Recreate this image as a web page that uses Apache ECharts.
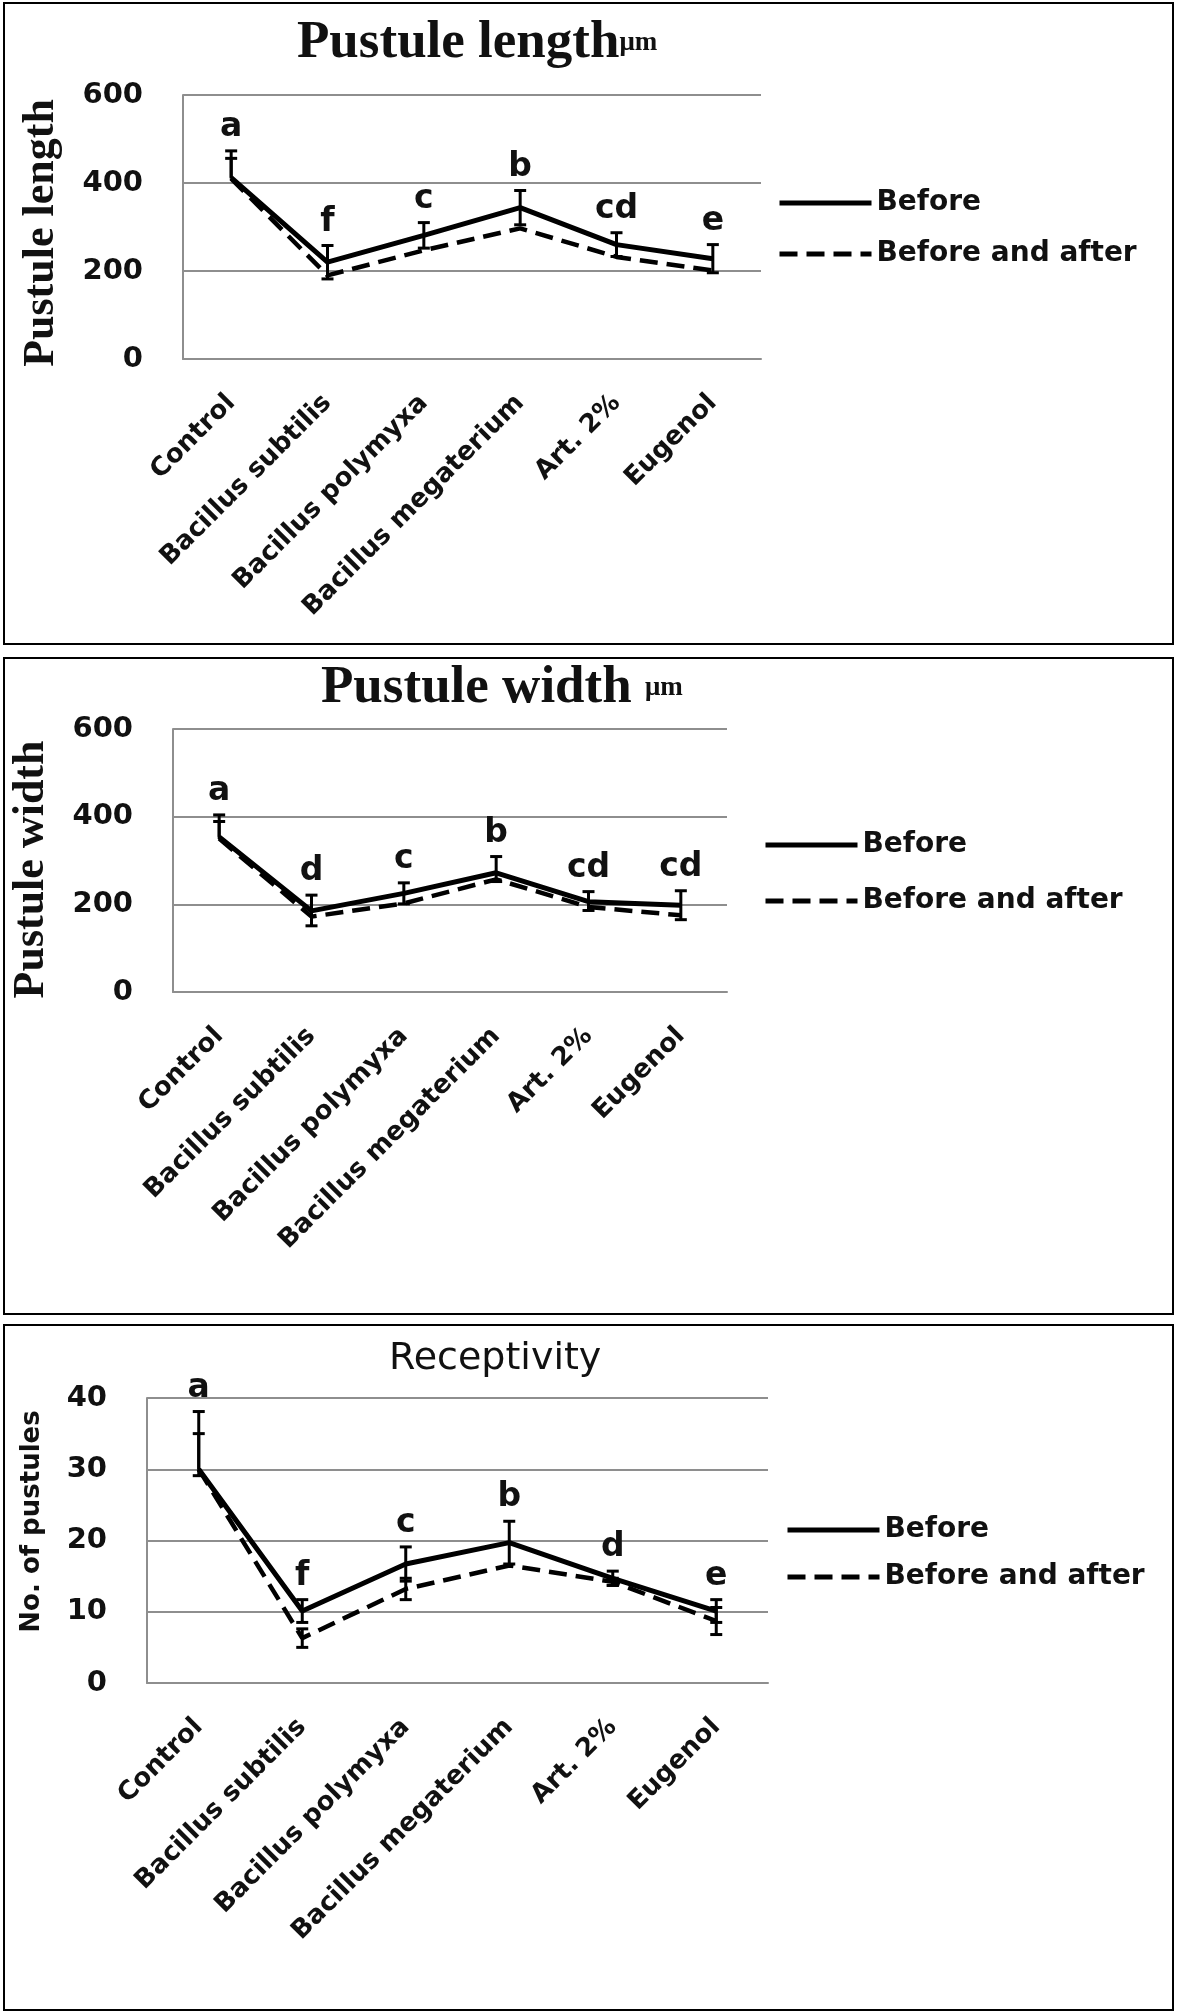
<!DOCTYPE html>
<html><head><meta charset="utf-8">
<script src="https://cdn.jsdelivr.net/npm/echarts@6/dist/echarts.min.js"></script>
<style>html,body{margin:0;padding:0;background:#fff}#c{width:1181px;height:2015px}</style>
</head><body><div id="c"></div>
<script>
// ---------- DATA ----------
const categories = ['Control', 'Bacillus subtilis', 'Bacillus polymyxa', 'Bacillus megaterium', 'Art. 2%', 'Eugenol'];
const seriesNames = ['Before', 'Before and after'];

// Pustule length (µm)
const lengthBefore        = [412, 220, 281, 344, 260, 228];
const lengthBeforeErrUp   = [61, 38, 29, 39, 27, 32];
const lengthBeforeErrDown = [0, 38, 29, 39, 27, 32];
const lengthAfter         = [410, 190, 247, 297, 232, 201];
const lengthAfterErrUp    = [46, 0, 0, 0, 0, 0];
const lengthAfterErrDown  = [0, 0, 0, 0, 0, 0];
const lengthLetters       = ['a', 'f', 'c', 'b', 'cd', 'e'];
const lengthAxis          = {min: 0, max: 600, interval: 200};

// Pustule width (µm)
const widthBefore        = [354, 185, 225, 272, 206, 198];
const widthBeforeErrUp   = [50, 36, 24, 37, 23, 33];
const widthBeforeErrDown = [0, 34, 24, 20, 20, 33];
const widthAfter         = [350, 172, 202, 257, 194, 175];
const widthAfterErrUp    = [39, 0, 0, 0, 0, 0];
const widthAfterErrDown  = [0, 0, 0, 0, 0, 0];
const widthLetters       = ['a', 'd', 'c', 'b', 'cd', 'cd'];
const widthAxis          = {min: 0, max: 600, interval: 200};

// Receptivity (No. of pustules)
const recBefore        = [30.0, 10.1, 16.7, 19.7, 14.7, 10.1];
const recBeforeErrUp   = [8.1, 1.6, 2.4, 3.0, 1.0, 1.6];
const recBeforeErrDown = [0, 1.6, 2.4, 3.0, 1.0, 1.6];
const recAfter         = [30.0, 6.3, 13.2, 16.5, 14.2, 8.7];
const recAfterErrUp    = [5.0, 1.3, 1.5, 0, 0.5, 1.9];
const recAfterErrDown  = [0.9, 1.3, 1.5, 0, 0.5, 1.9];
const recLetters       = ['a', 'f', 'c', 'b', 'd', 'e'];
const recAxis          = {min: 0, max: 40, interval: 10};

// ---------- CHART ----------
const GRAY = '#8e8e8e';
const TXT = '#111';
const tickFont = {fontFamily: 'DejaVu Sans', fontWeight: 'bold', fontSize: 29, color: TXT};

function yAxis(gi, ax, name, nameStyle, nameGap) {
  return {
    type: 'value', gridIndex: gi, min: ax.min, max: ax.max, interval: ax.interval,
    axisLine: {show: true, lineStyle: {color: GRAY, width: 2}},
    axisTick: {show: false},
    splitLine: {show: true, lineStyle: {color: GRAY, width: 2}},
    axisLabel: Object.assign({margin: 40}, tickFont),
    name: name, nameLocation: 'middle', nameRotate: 90, nameGap: nameGap,
    nameTextStyle: nameStyle
  };
}
function xAxis(gi) {
  return {
    type: 'category', gridIndex: gi, data: categories, boundaryGap: true,
    axisLine: {show: true, lineStyle: {color: GRAY, width: 2}},
    axisTick: {show: false},
    axisLabel: {rotate: 45, margin: 40, interval: 0, fontFamily: 'DejaVu Sans', fontWeight: 'bold', fontSize: 26, color: TXT}
  };
}
function lineSeries(gi, name, data, dashed) {
  return {
    type: 'line', name: name, xAxisIndex: gi, yAxisIndex: gi, data: data,
    symbol: 'none', silent: true, z: 2, animation: false,
    lineStyle: dashed ? {color: '#000', width: 4.5, type: [18, 9]} : {color: '#000', width: 5},
    itemStyle: {color: '#000'}
  };
}
function errSeries(gi, vals, up, down, letters) {
  const data = vals.map((v, i) => [i, v, up[i], down[i]]);
  return {
    type: 'custom', name: 'err' + gi + (letters ? 'a' : 'b'), xAxisIndex: gi, yAxisIndex: gi,
    data: data, z: 3, silent: true, animation: false,
    renderItem: function (params, api) {
      const i = api.value(0), v = api.value(1), u = api.value(2), d = api.value(3);
      const top = api.coord([i, v + u]);
      const bot = api.coord([i, v - d]);
      const cx = top[0], hw = 6;
      const st = {stroke: '#000', lineWidth: 3};
      const ch = [];
      if (u > 0 || d > 0) {
        ch.push({type: 'line', shape: {x1: cx, y1: top[1], x2: cx, y2: bot[1]}, style: st});
        if (u > 0) ch.push({type: 'line', shape: {x1: cx - hw, y1: top[1], x2: cx + hw, y2: top[1]}, style: st});
        if (d > 0) ch.push({type: 'line', shape: {x1: cx - hw, y1: bot[1], x2: cx + hw, y2: bot[1]}, style: st});
      }
      if (letters) {
        ch.push({type: 'text', x: cx, y: top[1] - 7,
          style: {text: letters[params.dataIndex], fill: TXT, font: 'bold 33px "DejaVu Sans"',
                  align: 'center', verticalAlign: 'bottom'}});
      }
      return {type: 'group', children: ch};
    }
  };
}
function legend(left, top, gap) {
  return {
    orient: 'vertical', left: left, top: top, itemWidth: 92, itemHeight: 14, itemGap: gap,
    selectedMode: false, data: seriesNames,
    itemStyle: {opacity: 0},
    lineStyle: {width: 5, opacity: 1},
    textStyle: {fontFamily: 'DejaVu Sans', fontWeight: 'bold', fontSize: 28, lineHeight: 30, color: TXT}
  };
}

const serifName = (pad) => ({fontFamily: 'Liberation Serif', fontWeight: 'bold', fontSize: 44, color: TXT, padding: pad});
const sansName = {fontFamily: 'DejaVu Sans', fontWeight: 'bold', fontSize: 26, color: TXT, padding: [0, 0, 0, 38]};
const serifTitle = {fontFamily: 'Liberation Serif', fontWeight: 'bold', fontSize: 53, color: TXT,
  rich: {s: {fontFamily: 'Liberation Serif', fontWeight: 'bold', fontSize: 27, color: TXT, verticalAlign: 'middle'}}};

const option = {
  animation: false,
  backgroundColor: '#fff',
  title: [
    {text: 'Pustule length{s|μm}', left: 297, top: 17, padding: 0, textStyle: serifTitle},
    {text: 'Pustule width {s|μm}', left: 321, top: 662, padding: 0, textStyle: serifTitle},
    {text: 'Receptivity', left: 389, top: 1340, padding: 0,
     textStyle: {fontFamily: 'DejaVu Sans', fontWeight: 'normal', fontSize: 38, color: TXT}}
  ],
  legend: [legend(772, 183, 21), legend(758, 825, 26), legend(780, 1510, 17)],
  grid: [
    {left: 183, top: 95, width: 578, height: 264},
    {left: 173, top: 729, width: 554, height: 263},
    {left: 147, top: 1398, width: 621, height: 285}
  ],
  xAxis: [xAxis(0), xAxis(1), xAxis(2)],
  yAxis: [
    yAxis(0, lengthAxis, 'Pustule length', serifName([0, 12, 0, 0]), 119),
    yAxis(1, widthAxis, 'Pustule width', serifName([0, 18, 0, 0]), 119),
    yAxis(2, recAxis, 'No. of pustules', sansName, 102)
  ],
  series: [
    lineSeries(0, 'Before', lengthBefore, false),
    lineSeries(0, 'Before and after', lengthAfter, true),
    errSeries(0, lengthAfter, lengthAfterErrUp, lengthAfterErrDown, null),
    errSeries(0, lengthBefore, lengthBeforeErrUp, lengthBeforeErrDown, lengthLetters),

    lineSeries(1, 'Before', widthBefore, false),
    lineSeries(1, 'Before and after', widthAfter, true),
    errSeries(1, widthAfter, widthAfterErrUp, widthAfterErrDown, null),
    errSeries(1, widthBefore, widthBeforeErrUp, widthBeforeErrDown, widthLetters),

    lineSeries(2, 'Before', recBefore, false),
    lineSeries(2, 'Before and after', recAfter, true),
    errSeries(2, recAfter, recAfterErrUp, recAfterErrDown, null),
    errSeries(2, recBefore, recBeforeErrUp, recBeforeErrDown, recLetters)
  ],
  graphic: [
    {type: 'rect', silent: true, shape: {x: 4, y: 3, width: 1169, height: 641}, style: {fill: 'none', stroke: '#000', lineWidth: 2}},
    {type: 'rect', silent: true, shape: {x: 4, y: 658, width: 1169, height: 656}, style: {fill: 'none', stroke: '#000', lineWidth: 2}},
    {type: 'rect', silent: true, shape: {x: 4, y: 1325, width: 1169, height: 685}, style: {fill: 'none', stroke: '#000', lineWidth: 2}}
  ]
};

const chart = echarts.init(document.getElementById('c'), null, {renderer: 'canvas', width: 1181, height: 2015});
chart.setOption(option);
</script>
</body></html>
